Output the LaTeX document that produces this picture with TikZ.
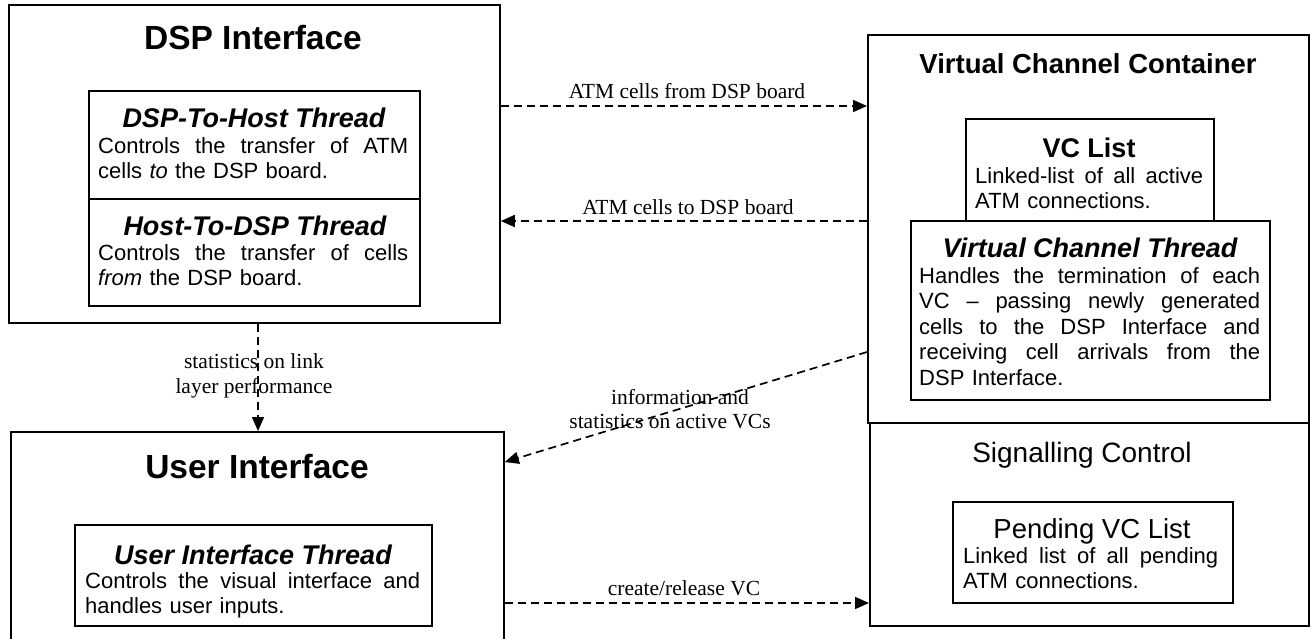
\documentclass[tikz,border=0pt]{standalone}
\usepackage{fontspec}
\setmainfont{Liberation Serif}
\newfontfamily\ars{Liberation Sans}
\usetikzlibrary{arrows.meta}
\newcommand\jl[2]{\leavevmode\hbox to #1{\spaceskip=0.28em plus 1fil\relax #2}}
\begin{document}
\begin{tikzpicture}[x=1pt,y=-1pt,
  box/.style={draw, line width=1.8pt, inner sep=0pt, anchor=north west},
  conn/.style={line width=1.7pt, dash pattern=on 8pt off 5pt, -{Triangle[length=14pt,width=12pt]}},
  bigttl/.style={font=\ars\bfseries\fontsize{33.5}{38}\selectfont, inner sep=0pt, anchor=base},
  ttl/.style={font=\ars\bfseries\fontsize{27}{31}\selectfont, inner sep=0pt, anchor=base},
  rttl/.style={font=\ars\fontsize{28}{32}\selectfont, inner sep=0pt, anchor=base},
  thr/.style={font=\ars\bfseries\itshape\fontsize{27}{31}\selectfont, inner sep=0pt, anchor=base},
  body/.style={font=\ars\fontsize{22}{25.5}\selectfont, inner sep=0pt, anchor=base west},
  lbl/.style={font=\fontsize{21.5}{24}\selectfont, inner sep=0pt, anchor=base}]
\useasboundingbox (0,0) rectangle (1316,638);
\clip (0,0) rectangle (1316,638);

% ---- DSP Interface ----
\node[box, minimum width=491pt, minimum height=318pt] (dsp) at (8,4) {};
\node[bigttl] (dspT) at (253,49) {DSP Interface};
\node[box, minimum width=331pt, minimum height=108pt] (dth) at (88,90) {};
\node[box, minimum width=331pt, minimum height=107pt] (htd) at (88,198) {};
\node[thr] (dthT) at (254,127) {DSP-To-Host Thread};
\node[body, text width=310pt] (dthB) at (98,153) {\jl{310pt}{Controls the transfer of ATM}\\cells \textit{to} the DSP board.};
\node[thr] (htdT) at (255,235) {Host-To-DSP Thread};
\node[body, text width=310pt] (htdB) at (98,260) {\jl{310pt}{Controls the transfer of cells}\\\textit{from} the DSP board.};

% ---- Virtual Channel Container ----
\node[box, minimum width=441pt, minimum height=388pt] (vcc) at (867,34) {};
\node[ttl, font=\ars\bfseries\fontsize{27.5}{31}\selectfont] (vccT) at (1088,73) {Virtual Channel Container};
\node[box, minimum width=248pt, minimum height=102pt] (vcl) at (965,118) {};
\node[ttl] (vclT) at (1089,157) {VC List};
\node[body, text width=228pt] (vclB) at (975,183) {\jl{228pt}{Linked-list of all active}\\ATM connections.};
\node[box, minimum width=359pt, minimum height=179pt] (vct) at (910,220) {};
\node[thr] (vctT) at (1090,257) {Virtual Channel Thread};
\node[body, text width=341pt] (vctB) at (919,283) {\jl{341pt}{Handles the termination of each}\\\jl{341pt}{VC \textendash{} passing newly generated}\\\jl{341pt}{cells to the DSP Interface and}\\\jl{341pt}{receiving cell arrivals from the}\\DSP Interface.};

% ---- Signalling Control ----
\node[box, minimum width=439pt, minimum height=203pt] (sc) at (869,422) {};
\node[rttl] (scT) at (1082,462) {Signalling Control};
\node[box, minimum width=280pt, minimum height=101pt] (pvl) at (952,501) {};
\node[rttl, font=\ars\fontsize{27.5}{32}\selectfont] (pvlT) at (1092,538) {Pending VC List};
\node[body, text width=255pt] (pvlB) at (963,563) {\jl{255pt}{Linked list of all pending}\\ATM connections.};

% ---- User Interface ----
\node[box, minimum width=493pt, minimum height=230pt] (ui) at (10,431) {};
\node[bigttl] (uiT) at (257,478) {User Interface};
\node[box, minimum width=357pt, minimum height=101pt] (uit) at (74,524) {};
\node[thr] (uitT) at (253,564) {User Interface Thread};
\node[body, text width=335pt] (uitB) at (85,588) {\jl{335pt}{Controls the visual interface and}\\handles user inputs.};

% ---- connectors ----
\coordinate (y1) at (0,106);
\coordinate (y2) at (0,221);
\coordinate (y3) at (0,352);
\coordinate (y4) at (0,462);
\coordinate (y5) at (0,603);
\coordinate (xs) at (258,0);
\draw[conn] (dsp.east |- y1) -- (vcc.west |- y1);
\draw[conn] (vcc.west |- y2) -- (dsp.east |- y2);
\draw[conn] (dsp.south -| xs) -- (ui.north -| xs);
\draw[conn] (vcc.west |- y3) -- (ui.east |- y4);
\draw[conn] (ui.east |- y5) -- (sc.west |- y5);

\node[lbl] (l1) at (687,98) {ATM cells from DSP board};
\node[lbl] (l2) at (688,214) {ATM cells to DSP board};
\node[lbl] (l3a) at (254,368) {statistics on link};
\node[lbl] (l3b) at (254,393) {layer performance};
\node[lbl] (l4a) at (680,404) {information and};
\node[lbl] (l4b) at (670,428) {statistics on active VCs};
\node[lbl] (l5) at (684,595) {create/release VC};
\end{tikzpicture}
\end{document}
